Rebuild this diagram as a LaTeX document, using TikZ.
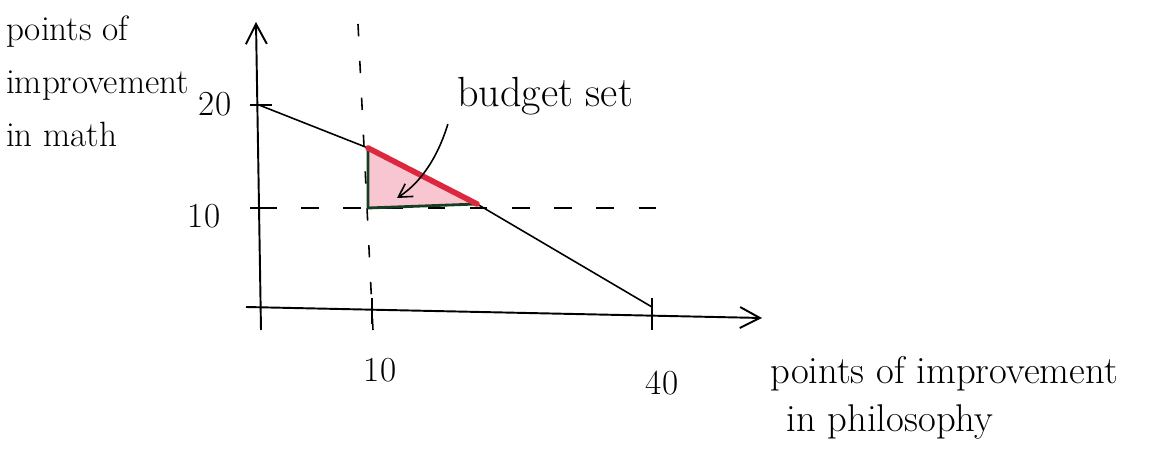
\documentclass[tikz,border=0pt]{standalone}
\usepackage{tikz}
\usetikzlibrary{arrows.meta,positioning,calc}
\definecolor{setpink}{RGB}{247,198,208}
\definecolor{setred}{RGB}{220,40,62}
\definecolor{setgreen}{RGB}{22,62,34}
\begin{document}
\begin{tikzpicture}[x=0.02cm,y=-0.02cm,>={Straight Barb[length=4mm,width=4.2mm]},
  ax/.style={line width=1.1pt,->},
  tk/.style={line width=1.2pt},
  gd/.style={line width=0.9pt,dash pattern=on 10pt off 14pt},
  lb/.style={font=\fontsize{20}{30}\selectfont,inner sep=1pt}]
\useasboundingbox (0,0) rectangle (1161,466);
% axes and points
\coordinate (O) at (260,308);
\coordinate (Ylow) at (261,330);
\coordinate (Ytop) at (256,22);
\coordinate (Xlow) at (246,307);
\coordinate (Xend) at (762,318);
\coordinate (M20) at (259,105);
\coordinate (P40) at (652,307);
\coordinate (M10) at (259,208);
\coordinate (Dright) at (665,208);
\coordinate (Vtop) at (358,24);
\coordinate (Vbot) at (373,330);
\coordinate (T1) at (368,148);
\coordinate (T2) at (368,208);
\coordinate (T3) at (477,204);
\draw[ax] (Ylow) -- (Ytop);
\draw[ax] (Xlow) -- (Xend);
% guide lines
\draw[gd] (M10) -- (Dright);
\draw[gd,dash pattern=on 7pt off 14pt] (Vtop) -- (Vbot);
\foreach \p in {M20,M10}{\draw[tk] ($(\p)+(-9,0)$) -- ($(\p)+(13,0)$);}
\foreach \p/\q in {372/0,652/6}{\draw[tk] (\p,298) -- (\p,324+\q);}
% budget line
\draw[line width=0.9pt] (M20) -- (T1) -- (T3) -- (P40);
% budget set
\fill[setpink] (T1) -- (T2) -- (T3) -- cycle;
\draw[setgreen,line width=1.6pt] (T1) -- (T2) -- (T3);
\draw[setred,line width=3.2pt,line cap=round] (T1) -- (T3);
% labels
\node[lb,align=left,anchor=north west] (ylab) at (4,14) {points of\\improvement\\in math};
\node[lb] (n20) at (215,104) {20};
\node[lb] (n10y) at (204,216) {10};
\node[lb] (n10x) at (380,370) {10};
\node[lb] (n40) at (662,383) {40};
\node[lb,font=\fontsize{24}{28}\selectfont] (bset) at (545,96) {budget set};
\node[lb,font=\fontsize{22}{26}\selectfont] (xlab1) at (944,374) {points of improvement};
\node[lb,font=\fontsize{22}{26}\selectfont] (xlab2) at (890,422) {in philosophy};
\draw[line width=0.9pt,->,>={Straight Barb[length=2.6mm,width=3mm]}] ([xshift=-4pt,yshift=-4pt]bset.south west) .. controls (440,150) and (425,180) .. (397,198);
\end{tikzpicture}
\end{document}
